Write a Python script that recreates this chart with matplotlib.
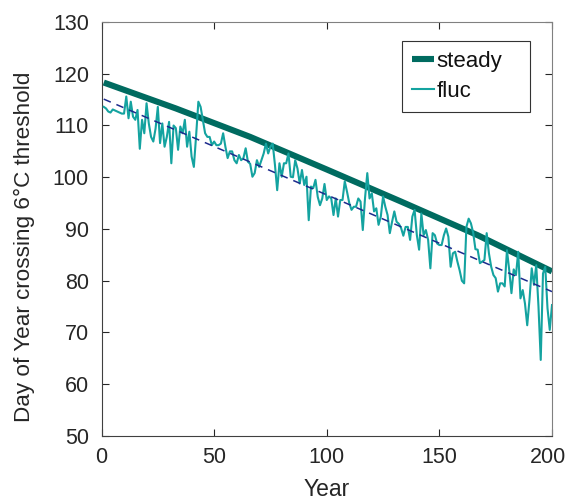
import numpy as np
import matplotlib
matplotlib.use("Agg")
import matplotlib.pyplot as plt
import matplotlib.transforms as mtransforms

plt.rcParams['font.family'] = ['Liberation Sans', 'DejaVu Sans']

# steady run (read at a few years off the picture)
steady_years = [1, 33, 66, 100, 133, 167, 200]
steady_vals = [118.3, 113.3, 107.8, 101.5, 95.3, 88.8, 81.8]

# fluctuating run, one value per year 1..200
fluc_vals = [
    113.6, 113.3, 112.7, 112.5, 113.1, 112.9, 112.7, 112.5, 112.3, 112.3,
    115.6, 111.4, 114.6, 111.7, 111.1, 113.0, 105.5, 111.1, 108.5, 114.3,
    110.4, 107.8, 106.9, 109.4, 113.6, 106.6, 110.4, 105.9, 107.8, 110.7,
    102.7, 110.0, 109.5, 105.3, 109.8, 108.5, 111.1, 105.9, 108.8, 104.0,
    102.0, 108.0, 114.6, 113.6, 111.0, 108.5, 107.8, 107.8, 106.2, 106.9,
    106.2, 106.2, 106.5, 108.5, 105.9, 103.7, 105.0, 105.0, 103.3, 102.7,
    104.3, 103.3, 103.7, 105.6, 103.0, 102.6, 100.1, 100.8, 103.3, 102.0,
    103.3, 104.6, 106.5, 104.6, 105.9, 106.5, 102.4, 97.5, 102.7, 100.1,
    102.7, 102.7, 104.6, 100.1, 100.0, 103.3, 101.7, 98.8, 101.4, 98.5,
    100.1, 91.7, 98.2, 97.9, 99.5, 96.2, 94.6, 95.9, 98.7, 95.6,
    96.3, 95.9, 92.7, 95.9, 92.4, 95.6, 95.6, 99.2, 97.2, 95.0,
    93.7, 94.3, 94.3, 95.9, 95.3, 89.8, 96.0, 100.8, 95.9, 96.9,
    93.4, 94.0, 90.8, 92.4, 96.3, 94.3, 92.7, 89.2, 91.4, 93.4,
    91.4, 91.0, 90.2, 88.7, 90.4, 90.4, 87.9, 92.4, 93.7, 88.8,
    86.0, 93.0, 88.8, 89.8, 87.9, 82.4, 89.2, 88.8, 87.2, 86.9,
    86.9, 88.8, 90.1, 88.5, 82.7, 85.3, 85.6, 83.7, 82.0, 80.0,
    79.5, 90.4, 92.0, 91.1, 89.3, 86.1, 86.0, 83.4, 83.7, 84.0,
    89.2, 85.3, 82.7, 81.1, 80.5, 77.9, 79.5, 79.5, 78.9, 85.9,
    82.1, 77.6, 82.2, 81.1, 85.6, 76.6, 78.2, 75.6, 71.4, 76.3,
    82.4, 79.2, 83.0, 75.0, 64.7, 81.4, 82.7, 74.7, 70.5, 75.3,
]
fluc_years = np.arange(1, len(fluc_vals) + 1)

# linear trend of the fluctuating run, end values
trend_years = [1, 200]
trend_vals = [115.1, 77.9]

fig = plt.figure(figsize=(5.68, 5.01), dpi=100)
ax = fig.add_axes([101.5 / 568, 1 - 436 / 501, 450.5 / 568, 414 / 501])

ax.plot(steady_years, steady_vals, color='#006b60', lw=4.4, label='steady',
        solid_capstyle='butt', zorder=2)
ax.plot(fluc_years, fluc_vals, color='#14a3a0', lw=1.5, label='fluc', zorder=3)
ax.plot(trend_years, trend_vals, color='#1c2a8c', lw=1.1, ls=(0, (5, 4)), zorder=4)

ax.set_xlim(0, 200)
ax.set_ylim(50, 130)
ax.set_xticks([0, 50, 100, 150, 200])
ax.set_yticks(np.arange(50, 131, 10))

tc = '#262626'
ax.tick_params(direction='in', top=True, right=True, length=5, width=0.8,
               labelsize=15.5, colors=tc)
ax.tick_params(axis='x', pad=8)
ax.tick_params(axis='y', pad=9)
for side in ['left', 'bottom']:
    ax.spines[side].set_color('#404040')
for side in ['top', 'right']:
    ax.spines[side].set_color('#808080')
for s in ax.spines.values():
    s.set_linewidth(0.8)

# the last x label sits a little left so it stays inside the figure
last = ax.get_xticklabels()[-1]
last.set_transform(last.get_transform() +
                   mtransforms.ScaledTranslation(-4 / 100, 0, fig.dpi_scale_trans))

ax.set_xlabel('Year', fontsize=16.5, color=tc, labelpad=7)
ax.set_ylabel('Day of Year crossing 6°C threshold', fontsize=16.2, color=tc)
ax.yaxis.set_label_coords(-0.148, 0.457)

leg = ax.legend(loc='upper left', bbox_to_anchor=(0.667, 0.954, 0.284, 0.0),
                mode='expand', fontsize=16, handlelength=1.0, handletextpad=0.1,
                borderpad=0.45, labelspacing=0.4, borderaxespad=0,
                fancybox=False, framealpha=1, edgecolor='#333333')
leg.get_frame().set_linewidth(0.8)
for t in leg.get_texts():
    t.set_color('#111111')

fig.savefig('out.png', dpi=100)
